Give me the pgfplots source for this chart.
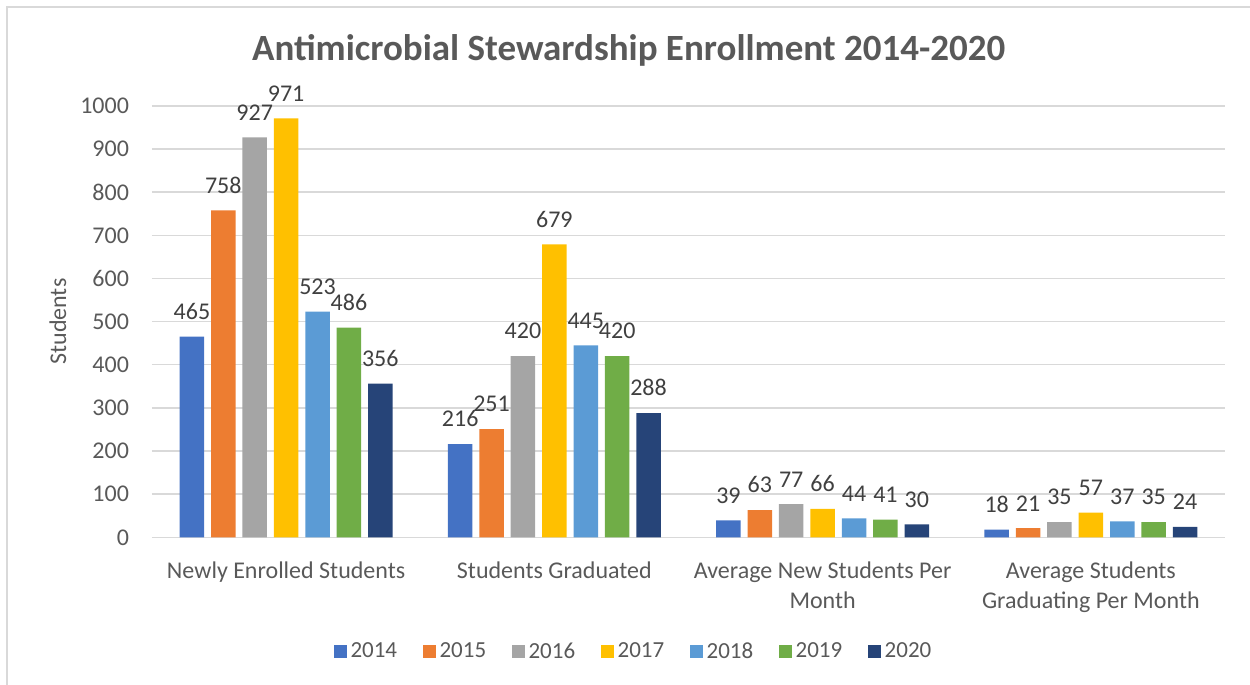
\documentclass[border=0pt]{standalone}
\usepackage{pgfplots}
\pgfplotsset{compat=1.18}
\usepackage{fontspec}
\setmainfont{Carlito}
\definecolor{c14}{HTML}{4472C4}
\definecolor{c15}{HTML}{ED7D31}
\definecolor{c16}{HTML}{A5A5A5}
\definecolor{c17}{HTML}{FFC000}
\definecolor{c18}{HTML}{5B9BD5}
\definecolor{c19}{HTML}{70AD47}
\definecolor{c20}{HTML}{264478}
\definecolor{txt}{HTML}{595959}
\definecolor{lab}{HTML}{404040}
\definecolor{gridc}{HTML}{D9D9D9}
\begin{document}
\begin{tikzpicture}
\begin{axis}[
  at={(0,0)}, anchor=south west,
  scale only axis, width=536.5pt, height=215.7pt,
  xmin=-0.5, xmax=3.5, ymin=0, ymax=1000,
  ybar=3.45pt, bar width=12.25pt,
  xtick={0,1,2,3},
  xticklabels={Newly Enrolled Students, Students Graduated, {Average New Students Per\\Month}, {Average Students\\Graduating Per Month}},
  xticklabel style={align=center, text=txt, font=\fontsize{12}{15}\selectfont, yshift=-8.5pt},
  ytick={0,100,...,1000},
  yticklabel style={text=txt, font=\fontsize{12}{14}\selectfont, xshift=-8pt},
  /pgf/number format/assume math mode=true,
  /pgf/number format/1000 sep={},
  major tick length=0pt,
  ymajorgrids, grid style={gridc, line width=0.75pt},
  axis lines*=left,
  x axis line style={gridc, line width=0.75pt, -},
  y axis line style={draw=none},
  ylabel={Students},
  ylabel style={at={(axis description cs:-0.0876,0.5)}, anchor=center, text=txt, font=\fontsize{12}{14}\selectfont},
  title={Antimicrobial Stewardship Enrollment 2014-2020},
  title style={at={(axis description cs:0.4443,1.078)}, anchor=base, text=txt, font=\fontsize{18.5}{22}\selectfont\bfseries},
  nodes near coords,
  every node near coord/.append style={text=lab, font=\fontsize{12}{14}\selectfont, anchor=south, yshift=5pt},
  legend columns=7,
  legend style={at={(0.4496,-0.2658)}, anchor=center, draw=none, fill=none, text=txt, font=\fontsize{11.5}{13}\selectfont,
    /tikz/every even column/.append style={column sep=10.7pt}},
  legend image code/.code={\fill[#1] (0pt,-3.25pt) rectangle (6.5pt,3.25pt);},
]
\addplot[fill=c14, draw=none] coordinates {(0,465) (1,216) (2,39) (3,18)};
\addplot[fill=c15, draw=none] coordinates {(0,758) (1,251) (2,63) (3,21)};
\addplot[fill=c16, draw=none] coordinates {(0,927) (1,420) (2,77) (3,35)};
\addplot[fill=c17, draw=none] coordinates {(0,971) (1,679) (2,66) (3,57)};
\addplot[fill=c18, draw=none] coordinates {(0,523) (1,445) (2,44) (3,37)};
\addplot[fill=c19, draw=none] coordinates {(0,486) (1,420) (2,41) (3,35)};
\addplot[fill=c20, draw=none] coordinates {(0,356) (1,288) (2,30) (3,24)};
\legend{2014,2015,2016,2017,2018,2019,2020}
\end{axis}
\draw[gridc, line width=0.75pt] (-72.5pt,-73.85pt) -- (-72.5pt,265.15pt) -- (549pt,265.15pt);
\pgfresetboundingbox
\path[use as bounding box] (-76pt,-73.85pt) rectangle (549pt,268.65pt);
\end{tikzpicture}
\end{document}
